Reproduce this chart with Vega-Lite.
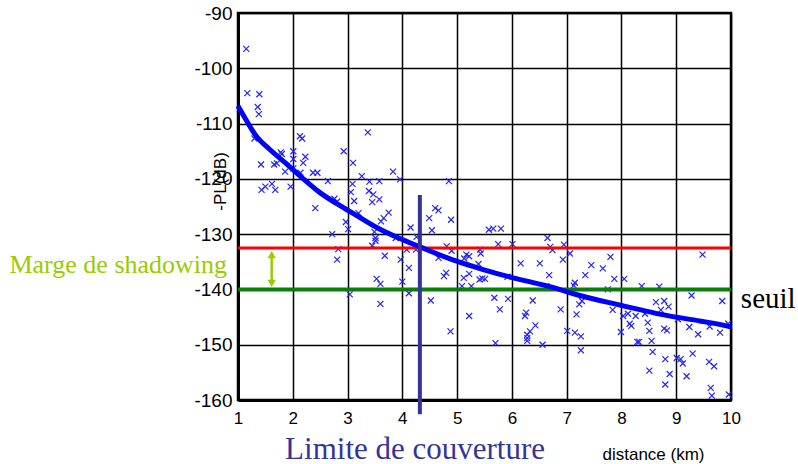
{
  "$schema": "https://vega.github.io/schema/vega-lite/v6.json",
  "width": 493,
  "height": 387,
  "autosize": {"type": "none"},
  "padding": {"left": 238, "top": 13, "right": 67, "bottom": 64},
  "background": "white",
  "config": {
    "view": {"stroke": "black", "strokeWidth": 2.5},
    "font": "Liberation Sans",
    "axis": {
      "grid": true, "gridColor": "black", "gridWidth": 1.5, "gridOpacity": 1,
      "domain": true, "domainColor": "black", "domainWidth": 3,
      "ticks": false, "labelFont": "Liberation Sans", "labelColor": "black",
      "labelOverlap": false, "labelFlush": false,
      "titleFont": "Liberation Sans", "titleFontWeight": "normal", "titleColor": "black"
    }
  },
  "datasets": {
    "one": [{}],
    "pts": [
      {"d":1.15,"pl":-96.5},{"d":1.17,"pl":-104.5},{"d":1.39,"pl":-104.7},{"d":1.36,"pl":-107.0},{"d":1.38,"pl":-108.3},
      {"d":1.30,"pl":-112.7},{"d":2.13,"pl":-112.3},{"d":2.17,"pl":-112.7},{"d":1.78,"pl":-115.2},{"d":1.80,"pl":-115.5},
      {"d":2.01,"pl":-115.0},{"d":2.23,"pl":-116.0},{"d":2.93,"pl":-115.0},{"d":3.37,"pl":-111.6},{"d":1.42,"pl":-117.4},
      {"d":1.66,"pl":-117.4},{"d":1.71,"pl":-117.2},{"d":2.01,"pl":-116.4},{"d":2.19,"pl":-117.1},{"d":2.01,"pl":-118.1},
      {"d":1.86,"pl":-118.7},{"d":2.14,"pl":-118.9},{"d":2.37,"pl":-118.9},{"d":2.45,"pl":-118.9},{"d":3.10,"pl":-117.1},
      {"d":3.83,"pl":-118.7},{"d":3.26,"pl":-119.5},{"d":3.96,"pl":-120.1},{"d":2.64,"pl":-120.4},{"d":3.09,"pl":-120.9},
      {"d":3.40,"pl":-120.5},{"d":3.58,"pl":-120.4},{"d":1.43,"pl":-122.0},{"d":1.50,"pl":-121.4},{"d":1.62,"pl":-120.9},
      {"d":1.68,"pl":-122.0},{"d":1.96,"pl":-121.4},{"d":3.06,"pl":-122.4},{"d":3.39,"pl":-122.2},{"d":3.47,"pl":-122.8},
      {"d":3.58,"pl":-123.7},{"d":3.12,"pl":-124.0},{"d":3.45,"pl":-124.2},{"d":2.76,"pl":-123.6},{"d":2.81,"pl":-124.1},
      {"d":2.41,"pl":-125.3},{"d":4.85,"pl":-120.4},{"d":3.20,"pl":-126.2},{"d":3.75,"pl":-126.1},{"d":3.66,"pl":-127.1},
      {"d":3.61,"pl":-127.7},{"d":2.97,"pl":-127.8},{"d":3.01,"pl":-129.1},{"d":2.72,"pl":-130.0},{"d":3.49,"pl":-129.6},
      {"d":3.51,"pl":-130.7},{"d":3.51,"pl":-131.2},{"d":3.45,"pl":-132.1},{"d":3.88,"pl":-130.7},{"d":4.15,"pl":-128.8},
      {"d":2.83,"pl":-132.7},{"d":2.81,"pl":-134.6},{"d":3.68,"pl":-133.9},{"d":3.97,"pl":-134.6},{"d":4.12,"pl":-136.1},
      {"d":3.53,"pl":-138.1},{"d":3.60,"pl":-139.0},{"d":4.00,"pl":-138.6},{"d":3.04,"pl":-140.9},{"d":3.60,"pl":-142.6},
      {"d":4.12,"pl":-140.7},{"d":4.60,"pl":-125.3},{"d":4.66,"pl":-125.7},{"d":4.49,"pl":-127.1},{"d":4.89,"pl":-127.4},
      {"d":4.54,"pl":-129.3},{"d":4.26,"pl":-130.5},{"d":4.08,"pl":-132.8},{"d":4.25,"pl":-132.8},{"d":4.81,"pl":-132.2},
      {"d":4.90,"pl":-133.0},{"d":4.66,"pl":-134.3},{"d":4.80,"pl":-137.0},{"d":4.76,"pl":-137.6},{"d":4.52,"pl":-142.0},
      {"d":5.58,"pl":-129.2},{"d":5.66,"pl":-129.0},{"d":5.80,"pl":-129.0},{"d":6.65,"pl":-130.7},{"d":5.75,"pl":-131.8},
      {"d":6.01,"pl":-131.8},{"d":6.70,"pl":-132.3},{"d":6.74,"pl":-132.9},{"d":6.95,"pl":-131.9},{"d":7.06,"pl":-133.5},
      {"d":6.93,"pl":-134.6},{"d":5.17,"pl":-133.7},{"d":5.22,"pl":-134.0},{"d":5.13,"pl":-134.4},{"d":5.42,"pl":-132.8},
      {"d":5.43,"pl":-133.5},{"d":5.39,"pl":-135.4},{"d":6.16,"pl":-135.3},{"d":6.51,"pl":-135.3},{"d":5.22,"pl":-137.2},
      {"d":5.12,"pl":-137.9},{"d":5.46,"pl":-138.0},{"d":5.41,"pl":-138.2},{"d":5.51,"pl":-138.1},{"d":6.68,"pl":-137.4},
      {"d":5.92,"pl":-137.7},{"d":5.09,"pl":-139.4},{"d":5.26,"pl":-139.4},{"d":6.63,"pl":-139.4},{"d":5.68,"pl":-141.5},
      {"d":5.93,"pl":-141.7},{"d":6.38,"pl":-142.0},{"d":5.78,"pl":-143.6},{"d":6.89,"pl":-143.6},{"d":7.18,"pl":-144.5},
      {"d":7.15,"pl":-138.8},{"d":7.13,"pl":-139.3},{"d":5.22,"pl":-144.8},{"d":6.26,"pl":-144.2},{"d":6.24,"pl":-144.8},
      {"d":6.43,"pl":-146.5},{"d":6.33,"pl":-147.6},{"d":6.28,"pl":-148.2},{"d":6.28,"pl":-148.8},{"d":6.28,"pl":-149.3},
      {"d":4.88,"pl":-147.6},{"d":7.01,"pl":-147.5},{"d":7.15,"pl":-147.8},{"d":5.70,"pl":-149.7},{"d":6.56,"pl":-150.0},
      {"d":7.26,"pl":-148.5},{"d":7.26,"pl":-151.0},{"d":7.80,"pl":-134.1},{"d":7.45,"pl":-135.6},{"d":7.66,"pl":-136.2},
      {"d":7.34,"pl":-137.4},{"d":7.87,"pl":-138.1},{"d":8.05,"pl":-138.1},{"d":8.37,"pl":-139.4},{"d":8.69,"pl":-139.5},
      {"d":7.75,"pl":-140.0},{"d":7.28,"pl":-142.1},{"d":7.23,"pl":-142.7},{"d":7.84,"pl":-143.7},{"d":8.03,"pl":-144.8},
      {"d":8.12,"pl":-144.4},{"d":8.26,"pl":-144.8},{"d":8.43,"pl":-144.4},{"d":8.48,"pl":-146.0},{"d":8.15,"pl":-146.2},
      {"d":8.18,"pl":-146.6},{"d":7.99,"pl":-147.7},{"d":8.29,"pl":-149.5},{"d":8.32,"pl":-149.5},{"d":8.51,"pl":-154.7},
      {"d":9.48,"pl":-133.7},{"d":9.28,"pl":-141.1},{"d":9.84,"pl":-142.1},{"d":8.63,"pl":-142.3},{"d":8.78,"pl":-142.1},
      {"d":8.86,"pl":-143.1},{"d":8.72,"pl":-143.7},{"d":9.03,"pl":-145.4},{"d":9.24,"pl":-146.8},{"d":9.40,"pl":-148.1},
      {"d":9.61,"pl":-146.7},{"d":9.80,"pl":-147.8},{"d":9.95,"pl":-146.2},{"d":8.51,"pl":-147.5},{"d":8.78,"pl":-147.1},
      {"d":8.83,"pl":-147.4},{"d":8.55,"pl":-149.3},{"d":8.57,"pl":-151.3},{"d":9.30,"pl":-151.6},{"d":8.80,"pl":-152.6},
      {"d":9.01,"pl":-152.4},{"d":9.08,"pl":-152.6},{"d":9.12,"pl":-153.4},{"d":9.60,"pl":-153.1},{"d":9.69,"pl":-153.9},
      {"d":8.88,"pl":-155.3},{"d":9.19,"pl":-155.7},{"d":8.80,"pl":-157.2},{"d":9.63,"pl":-157.8},{"d":9.65,"pl":-159.2},
      {"d":9.96,"pl":-159.0}
    ],
    "curve": [
      {"d":1.0,"pl":-106.8},{"d":1.146,"pl":-109.3},{"d":1.328,"pl":-112.2},{"d":1.571,"pl":-114.6},{"d":1.876,"pl":-117.2},
      {"d":2.181,"pl":-119.9},{"d":2.484,"pl":-122.4},{"d":2.788,"pl":-124.4},{"d":3.093,"pl":-126.2},{"d":3.531,"pl":-128.8},
      {"d":3.956,"pl":-130.8},{"d":4.321,"pl":-132.3},{"d":4.991,"pl":-134.9},{"d":5.476,"pl":-136.4},{"d":6.024,"pl":-137.9},
      {"d":6.693,"pl":-139.5},{"d":7.241,"pl":-141.1},{"d":8.002,"pl":-142.9},{"d":8.396,"pl":-143.8},{"d":8.823,"pl":-144.7},
      {"d":9.431,"pl":-145.7},{"d":9.918,"pl":-146.6},{"d":10.0,"pl":-146.8}
    ]
  },
  "layer": [
    {
      "data": {"name": "pts"},
      "mark": {"type": "point", "shape": "M-1,-1L1,1M-1,1L1,-1", "filled": false, "size": 36, "strokeWidth": 1.2, "color": "#2424ff", "opacity": 1},
      "encoding": {
        "x": {
          "field": "d", "type": "quantitative",
          "scale": {"domain": [1, 10], "nice": false, "zero": false},
          "axis": {
            "values": [1,2,3,4,5,6,7,8,9,10],
            "format": "d",
            "labelPadding": 10, "labelFontSize": 17,
            "title": "distance (km)", "titleFontSize": 17,
            "titleX": 415, "titleY": 59, "titleBaseline": "alphabetic", "titleAlign": "center"
          }
        },
        "y": {
          "field": "pl", "type": "quantitative",
          "scale": {"domain": [-160, -90], "nice": false, "zero": false},
          "axis": {
            "values": [-160,-150,-140,-130,-120,-110,-100,-90],
            "labelExpr": "'' + datum.value",
            "labelPadding": 6, "labelFontSize": 19,
            "title": "-PL(dB)", "titleFontSize": 17,
            "titleX": -9, "titleY": 168, "titleAngle": -90, "titleAlign": "center", "titleBaseline": "bottom"
          }
        }
      }
    },
    {
      "data": {"name": "one"},
      "mark": {"type": "rule", "color": "#ff0000", "strokeWidth": 3},
      "encoding": {"y": {"datum": -132.5, "type": "quantitative"}}
    },
    {
      "data": {"name": "one"},
      "mark": {"type": "rule", "color": "#0a7d0a", "strokeWidth": 4},
      "encoding": {"y": {"datum": -140, "type": "quantitative"}}
    },
    {
      "data": {"name": "curve"},
      "mark": {"type": "line", "color": "#0000ff", "strokeWidth": 5, "interpolate": "monotone"},
      "encoding": {
        "x": {"field": "d", "type": "quantitative"},
        "y": {"field": "pl", "type": "quantitative"}
      }
    },
    {
      "data": {"name": "one"},
      "mark": {"type": "rule", "color": "#33339a", "strokeWidth": 4},
      "encoding": {
        "x": {"datum": 4.32, "type": "quantitative"},
        "y": {"datum": -122.9, "type": "quantitative"},
        "y2": {"datum": -162.6}
      }
    },
    {
      "data": {"name": "one"},
      "mark": {"type": "rule", "color": "#99cc00", "strokeWidth": 2.5},
      "encoding": {
        "x": {"datum": 1.615, "type": "quantitative"},
        "y": {"datum": -133.6, "type": "quantitative"},
        "y2": {"datum": -139.0}
      }
    },
    {
      "data": {"name": "one"},
      "mark": {"type": "point", "shape": "triangle-up", "filled": true, "size": 70, "color": "#99cc00", "opacity": 1},
      "encoding": {
        "x": {"datum": 1.615, "type": "quantitative"},
        "y": {"datum": -133.7, "type": "quantitative"}
      }
    },
    {
      "data": {"name": "one"},
      "mark": {"type": "point", "shape": "triangle-down", "filled": true, "size": 70, "color": "#99cc00", "opacity": 1},
      "encoding": {
        "x": {"datum": 1.615, "type": "quantitative"},
        "y": {"datum": -138.9, "type": "quantitative"}
      }
    },
    {
      "data": {"name": "one"},
      "mark": {"type": "text", "text": "Marge de shadowing", "font": "Liberation Serif", "fontSize": 26, "color": "#99cc00", "align": "right", "baseline": "alphabetic"},
      "encoding": {
        "x": {"datum": 0.80, "type": "quantitative"},
        "y": {"datum": -137.0, "type": "quantitative"}
      }
    },
    {
      "data": {"name": "one"},
      "mark": {"type": "text", "text": "seuil", "font": "Liberation Serif", "fontSize": 29, "color": "black", "align": "left", "baseline": "alphabetic"},
      "encoding": {
        "x": {"datum": 10.18, "type": "quantitative"},
        "y": {"datum": -143.3, "type": "quantitative"}
      }
    },
    {
      "data": {"name": "one"},
      "mark": {"type": "text", "text": "Limite de couverture", "font": "Liberation Serif", "fontSize": 31, "color": "#33339a", "align": "left", "baseline": "alphabetic"},
      "encoding": {
        "x": {"datum": 1.86, "type": "quantitative"},
        "y": {"datum": -170.6, "type": "quantitative"}
      }
    }
  ]
}
